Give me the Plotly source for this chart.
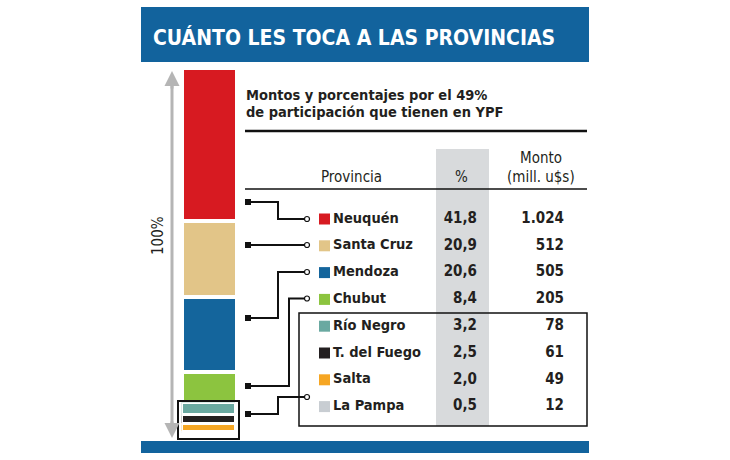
import plotly.graph_objects as go

# ---------------- data ----------------
provincias = ["Neuquén", "Santa Cruz", "Mendoza", "Chubut",
              "Río Negro", "T. del Fuego", "Salta", "La Pampa"]
porcentajes = [41.8, 20.9, 20.6, 8.4, 3.2, 2.5, 2.0, 0.5]
porcentajes_txt = ["41,8", "20,9", "20,6", "8,4", "3,2", "2,5", "2,0", "0,5"]
montos = [1024, 512, 505, 205, 78, 61, 49, 12]
montos_txt = ["1.024", "512", "505", "205", "78", "61", "49", "12"]
colores = ["#d71a21", "#e2c588", "#14659c", "#8cc43f",
           "#6aa9a1", "#231f20", "#f6a623", "#c8cdd2"]

titulo = "CUÁNTO LES TOCA A LAS PROVINCIAS"
subtitulo = ["Montos y porcentajes por el 49%", "de participación que tienen en YPF"]
encabezados = ["Provincia", "%", "Monto", "(mill. u$s)"]

W, H = 730, 460
FONT = "Liberation Sans Narrow, DejaVu Sans Condensed, Arial Narrow, sans-serif"
INK = "#231f20"
BLUE = "#12639d"

def py(v):  # pixel y -> paper
    return 1 - v / H

def px(v):
    return v / W

fig = go.Figure()

# ---- overlay (pixel-like coordinates) on base axes x/y ----
row0, drow = 219, 26.8
rows_y = [row0 + k * drow for k in range(len(provincias))]

# colour squares
fig.add_trace(go.Scatter(
    x=[324.5] * len(provincias), y=rows_y, mode="markers",
    marker=dict(symbol="square", size=11, color=colores, line=dict(width=0)),
    hoverinfo="skip", showlegend=False))

# names
fig.add_trace(go.Scatter(
    x=[333] * len(provincias), y=rows_y, mode="text", text=provincias,
    textposition="middle right",
    textfont=dict(family=FONT, size=14.5, color=INK, weight="bold"),
    hoverinfo="skip", showlegend=False))

# percentages
fig.add_trace(go.Scatter(
    x=[477] * len(provincias), y=rows_y, mode="text", text=porcentajes_txt,
    textposition="middle left",
    textfont=dict(family=FONT, size=15, color=INK, weight="bold"),
    hoverinfo="skip", showlegend=False))

# amounts
fig.add_trace(go.Scatter(
    x=[564] * len(provincias), y=rows_y, mode="text", text=montos_txt,
    textposition="middle left",
    textfont=dict(family=FONT, size=15, color=INK, weight="bold"),
    hoverinfo="skip", showlegend=False))

# connectors
connectors = [
    [(248, 202), (278, 202), (278, 219), (305, 219)],
    [(248, 245), (305, 245)],
    [(248, 318), (278, 318), (278, 272), (305, 272)],
    [(248, 386), (289, 386), (289, 298.5), (305, 298.5)],
    [(248, 414), (278, 414), (278, 397), (305, 397)],
]
for pts in connectors:
    xs = [p[0] for p in pts]
    ys = [p[1] for p in pts]
    fig.add_trace(go.Scatter(
        x=xs, y=ys, mode="lines", line=dict(color="#111", width=2),
        hoverinfo="skip", showlegend=False))
    fig.add_trace(go.Scatter(
        x=[xs[0]], y=[ys[0]], mode="markers",
        marker=dict(symbol="square", size=6, color="#111"),
        hoverinfo="skip", showlegend=False))
    fig.add_trace(go.Scatter(
        x=[xs[-1] + 2], y=[ys[-1]], mode="markers",
        marker=dict(symbol="circle", size=5, color="white",
                    line=dict(color="#111", width=1.2)),
        hoverinfo="skip", showlegend=False))

# ---- main stacked bar (four big provinces), bottom to top ----
main_n = 4
main_total = sum(porcentajes[:main_n])
for i in reversed(range(main_n)):
    fig.add_trace(go.Bar(
        x=[0], y=[porcentajes[i]], width=1, name=provincias[i],
        marker=dict(color=colores[i], line=dict(color="white", width=4)),
        xaxis="x2", yaxis="y2", hoverinfo="skip", showlegend=False))

# ---- small stacked bar (the four small provinces, zoomed in) ----
small_total = sum(porcentajes[main_n:])
for i in reversed(range(main_n, len(provincias))):
    fig.add_trace(go.Bar(
        x=[0], y=[porcentajes[i]], width=1, name=provincias[i],
        marker=dict(color=colores[i], line=dict(color="white", width=3)),
        xaxis="x3", yaxis="y3", hoverinfo="skip", showlegend=False))

shapes = [
    # title bar
    dict(type="rect", xref="x", yref="y", x0=141, x1=589, y0=7, y1=62,
         fillcolor=BLUE, line=dict(width=0), layer="below"),
    # bottom bar
    dict(type="rect", xref="x", yref="y", x0=141, x1=589, y0=441, y1=453,
         fillcolor=BLUE, line=dict(width=0), layer="below"),
    # grey % column
    dict(type="rect", xref="x", yref="y", x0=436, x1=489, y0=149, y1=426,
         fillcolor="#d8dadc", line=dict(width=0), layer="below"),
    # rules
    dict(type="line", xref="x", yref="y", x0=245, x1=587, y0=131, y1=131,
         line=dict(color="#111", width=2.5)),
    dict(type="line", xref="x", yref="y", x0=245, x1=587, y0=189, y1=189,
         line=dict(color="#111", width=1.3)),
    # box around small provinces in table
    dict(type="rect", xref="x", yref="y", x0=299, x1=587, y0=313, y1=426,
         line=dict(color="#111", width=1.5)),
    # box around small stack
    dict(type="rect", xref="x", yref="y", x0=178, x1=239, y0=401, y1=439,
         line=dict(color="#111", width=2)),
    # grey axis line
    dict(type="line", xref="x", yref="y", x0=172, x1=172, y0=80, y1=430,
         line=dict(color="#b5b5b5", width=3)),
]

annotations = [
    dict(text=titulo, xref="x", yref="y", x=151, y=37, xanchor="left",
         yanchor="middle", showarrow=False,
         font=dict(family=FONT, size=21, color="white", weight="bold")),
    dict(text=subtitulo[0], xref="x", yref="y", x=244, y=95, xanchor="left",
         yanchor="middle", showarrow=False,
         font=dict(family=FONT, size=14.5, color=INK, weight="bold")),
    dict(text=subtitulo[1], xref="x", yref="y", x=244, y=112, xanchor="left",
         yanchor="middle", showarrow=False,
         font=dict(family=FONT, size=14.5, color=INK, weight="bold")),
    dict(text=encabezados[0], xref="x", yref="y", x=351, y=177, xanchor="center",
         yanchor="middle", showarrow=False, font=dict(family=FONT, size=15, color=INK)),
    dict(text=encabezados[1], xref="x", yref="y", x=461, y=177, xanchor="center",
         yanchor="middle", showarrow=False, font=dict(family=FONT, size=15, color=INK)),
    dict(text=encabezados[2], xref="x", yref="y", x=541, y=158, xanchor="center",
         yanchor="middle", showarrow=False, font=dict(family=FONT, size=15, color=INK)),
    dict(text=encabezados[3], xref="x", yref="y", x=541, y=177, xanchor="center",
         yanchor="middle", showarrow=False, font=dict(family=FONT, size=15, color=INK)),
    dict(text="100%", xref="x", yref="y", x=158, y=236, xanchor="center",
         yanchor="middle", textangle=-90, showarrow=False,
         font=dict(family=FONT, size=15, color=INK)),
    # arrow heads
    dict(text="", xref="x", yref="y", axref="x", ayref="y",
         x=172, y=71, ax=172, ay=90, showarrow=True, arrowhead=2,
         arrowsize=1, arrowwidth=3, arrowcolor="#b5b5b5", standoff=0),
    dict(text="", xref="x", yref="y", axref="x", ayref="y",
         x=172, y=438, ax=172, ay=420, showarrow=True, arrowhead=2,
         arrowsize=1, arrowwidth=3, arrowcolor="#b5b5b5", standoff=0),
]

hidden = dict(visible=False, showgrid=False, zeroline=False, fixedrange=True)
fig.update_layout(
    width=W, height=H, margin=dict(l=0, r=0, t=0, b=0),
    paper_bgcolor="white", plot_bgcolor="rgba(0,0,0,0)",
    barmode="stack", bargap=0, showlegend=False,
    xaxis=dict(domain=[0, 1], range=[0, W], **hidden),
    yaxis=dict(domain=[0, 1], range=[H, 0], **hidden),
    xaxis2=dict(domain=[px(182), px(237)], range=[-0.5, 0.5], anchor="y2", **hidden),
    yaxis2=dict(domain=[py(403), py(68)], range=[0, main_total], anchor="x2", **hidden),
    xaxis3=dict(domain=[px(181.5), px(235.5)], range=[-0.5, 0.5], anchor="y3", **hidden),
    yaxis3=dict(domain=[py(433.4), py(402.5)], range=[0, small_total], anchor="x3", **hidden),
    shapes=shapes, annotations=annotations,
)

fig.write_html("out.html")
